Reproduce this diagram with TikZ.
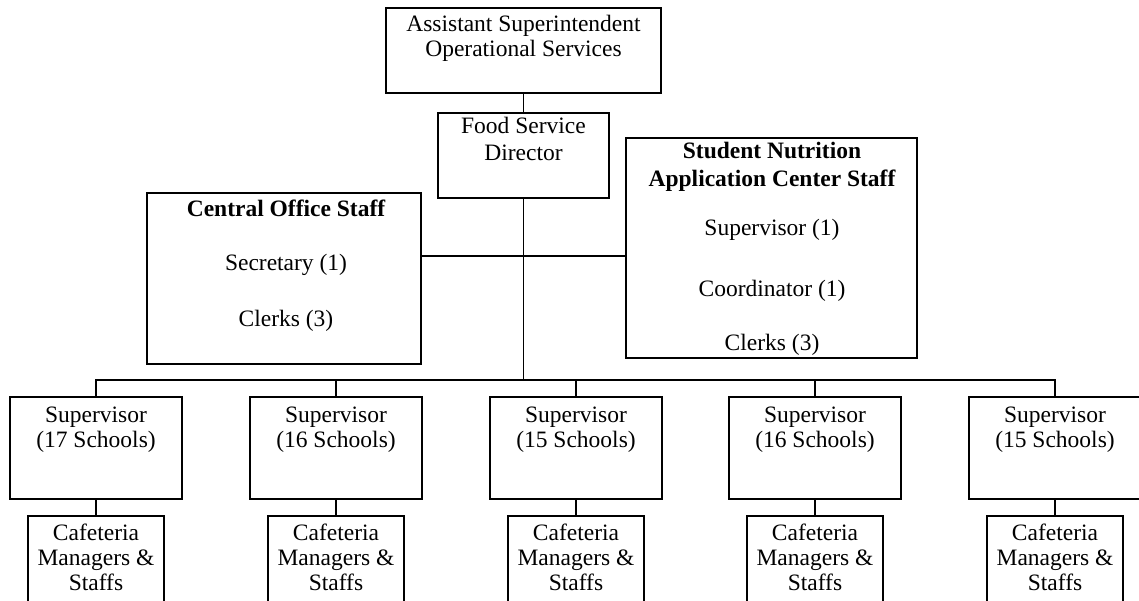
\documentclass[tikz,border=0pt]{standalone}
\usepackage{fontspec}
\setmainfont{Liberation Serif}
\begin{document}
\begin{tikzpicture}[x=1pt,y=-1pt,
  orgbox/.style={draw=black,line width=1.6pt,rectangle,inner sep=0pt},
  txt/.style={anchor=base,inner sep=0pt,font=\fontsize{23.5}{26}\selectfont},
  btxt/.style={txt,font=\fontsize{23.5}{26}\selectfont\bfseries},
  link/.style={draw=black,line width=1.6pt}]
\useasboundingbox (0,0) rectangle (1139,601);
\clip (0,0) rectangle (1139,601);

% top of the chart
\node[orgbox,minimum width=275pt,minimum height=85pt] (asst) at (523.5,50.5) {};
\node[txt] (asst-1) at (523.5,32) {Assistant Superintendent};
\node[txt] (asst-2) at (523.5,57) {Operational Services};

\node[orgbox,minimum width=171pt,minimum height=85pt] (fsd) at (523.5,155.5) {};
\node[txt] (fsd-1) at (523.5,134) {Food Service};
\node[txt] (fsd-2) at (523.5,161) {Director};

% staff boxes beside the director line
\node[orgbox,minimum width=274pt,minimum height=171pt] (cos) at (284,278.5) {};
\node[btxt] (cos-1) at (286,217) {Central Office Staff};
\node[txt] (cos-2) at (286,271) {Secretary (1)};
\node[txt] (cos-3) at (286,326) {Clerks (3)};

\node[orgbox,minimum width=291pt,minimum height=220pt] (snac) at (771.5,248) {};
\node[btxt] (snac-1) at (772,159) {Student Nutrition};
\node[btxt] (snac-2) at (772,187) {Application Center Staff};
\node[txt] (snac-3) at (772,236) {Supervisor (1)};
\node[txt] (snac-4) at (772,297) {Coordinator (1)};
\node[txt] (snac-5) at (772,350) {Clerks (3)};

% supervisors and their cafeteria staff
\foreach \i/\cx/\n in {1/96/17,2/336/16,3/576/15,4/815/16,5/1055/15}{
  \node[orgbox,minimum width=172pt,minimum height=102pt] (sup\i) at (\cx,448) {};
  \node[txt] (sup\i-1) at (\cx,422) {Supervisor};
  \node[txt] (sup\i-2) at (\cx,447) {(\n\ Schools)};
  \node[orgbox,minimum width=136pt,minimum height=124pt] (caf\i) at (\cx,578) {};
  \node[txt] (caf\i-1) at (\cx,540) {Cafeteria};
  \node[txt] (caf\i-2) at (\cx,565) {Managers \&};
  \node[txt] (caf\i-3) at (\cx,590) {Staffs};
}

% connectors
\coordinate (mid) at (523.5,256);
\coordinate (bus) at (523.5,380);
\draw[link] (asst.south) -- (fsd.north);
\draw[link] (fsd.south) -- (bus);
\draw[link] (cos.east |- mid) -- (snac.west |- mid);
\draw[link] (sup1.north) -- (sup1.north |- bus) -- (sup5.north |- bus) -- (sup5.north);
\foreach \i in {2,3,4}{
  \draw[link] (sup\i.north) -- (sup\i.north |- bus);
}
\foreach \i in {1,...,5}{
  \draw[link] (sup\i.south) -- (caf\i.north);
}
\end{tikzpicture}
\end{document}
